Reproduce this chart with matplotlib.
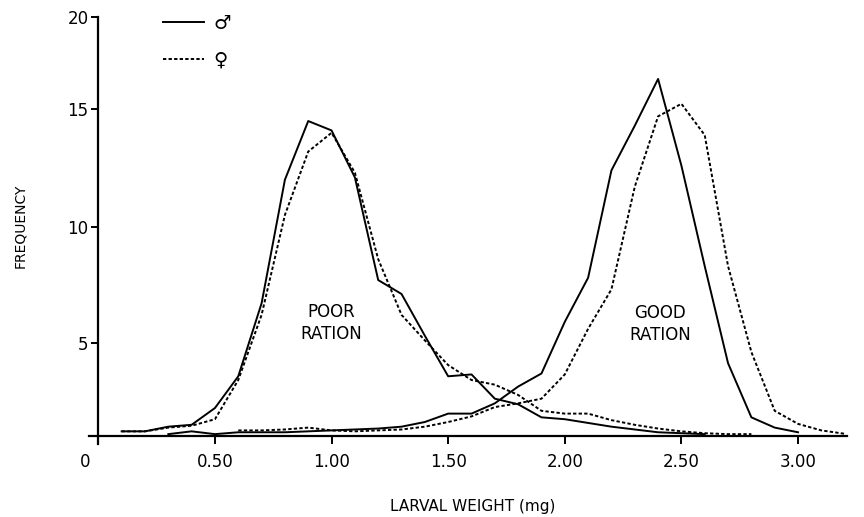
import numpy as np
import matplotlib
matplotlib.use("Agg")
import matplotlib.pyplot as plt
import matplotlib.transforms as mtransforms

# ---- data ----
poor_male_x = np.round(np.arange(0.1, 2.65, 0.1), 2)
poor_male_y = [0.25, 0.25, 0.5, 0.6, 1.5, 3.2, 6.7, 12.0, 14.5, 14.1, 12.1, 7.7, 7.1,
               5.3, 3.2, 3.3, 2.0, 1.7, 1.0, 0.9, 0.7, 0.5, 0.35, 0.2, 0.15, 0.1]
poor_female_x = np.round(np.arange(0.1, 2.85, 0.1), 2)
poor_female_y = [0.25, 0.25, 0.45, 0.55, 0.9, 3.0, 6.2, 10.5, 13.2, 14.0, 12.3, 8.6, 6.2,
                 5.1, 3.8, 3.0, 2.75, 2.2, 1.35, 1.2, 1.2, 0.85, 0.6, 0.4, 0.25, 0.15, 0.1, 0.1]
good_male_x = np.round(np.arange(0.3, 3.05, 0.1), 2)
good_male_y = [0.1, 0.25, 0.1, 0.2, 0.2, 0.2, 0.25, 0.3, 0.35, 0.4, 0.5, 0.75, 1.2, 1.2,
               1.75, 2.65, 3.35, 5.9, 7.8, 12.4, 14.3, 16.65, 12.6, 8.3, 3.9, 1.0, 0.45, 0.2]
good_female_x = np.round(np.arange(0.6, 3.25, 0.1), 2)
good_female_y = [0.3, 0.3, 0.35, 0.45, 0.3, 0.25, 0.3, 0.35, 0.5, 0.75, 1.05, 1.55, 1.75,
                 2.0, 3.3, 5.6, 7.3, 11.7, 14.7, 15.3, 13.9, 8.3, 4.5, 1.35, 0.65, 0.3, 0.12]

x_ticks = [0.5, 1.0, 1.5, 2.0, 2.5, 3.0]
x_tick_labels = ["0.50", "1.00", "1.50", "2.00", "2.50", "3.00"]
y_ticks = [5, 10, 15, 20]
y_tick_labels = ["5", "10", "15", "20"]

# ---- the printed frequency axis is not evenly spaced; mimic it ----
VB = np.array([0.0, 5.0, 10.0, 15.0, 20.0])
PB = np.array([0.0, 93.3, 209.3, 326.7, 418.7])
s_lo = (PB[1] - PB[0]) / (VB[1] - VB[0])
s_hi = (PB[-1] - PB[-2]) / (VB[-1] - VB[-2])


def fwd(v):
    v = np.asarray(v, dtype=float)
    out = np.interp(v, VB, PB)
    out = np.where(v < VB[0], PB[0] + (v - VB[0]) * s_lo, out)
    out = np.where(v > VB[-1], PB[-1] + (v - VB[-1]) * s_hi, out)
    return out


def inv(p):
    p = np.asarray(p, dtype=float)
    out = np.interp(p, PB, VB)
    out = np.where(p < PB[0], VB[0] + (p - PB[0]) / s_lo, out)
    out = np.where(p > PB[-1], VB[-1] + (p - PB[-1]) / s_hi, out)
    return out


plt.rcParams["lines.scale_dashes"] = False
W, H = 864, 517
fig = plt.figure(figsize=(W / 100, H / 100), dpi=100)
ax = fig.add_axes([89 / W, 72.6 / H, 758 / W, 427.1 / H])
ax.set_yscale("function", functions=(fwd, inv))
ax.set_xlim(-0.04, 3.21)
ax.set_ylim(-0.45, 20)

lw = 1.4
dash = (2.4, 1.6)
l_m, = ax.plot(poor_male_x, poor_male_y, color="black", lw=lw, label="♂")
l_f, = ax.plot(poor_female_x, poor_female_y, color="black", lw=lw, ls=(0, dash), label="♀")
ax.plot(good_male_x, good_male_y, color="black", lw=lw)
ax.plot(good_female_x, good_female_y, color="black", lw=lw, ls=(0, dash))

for s in ["top", "right"]:
    ax.spines[s].set_visible(False)
ax.spines["left"].set_position(("data", 0))
ax.spines["bottom"].set_position(("data", 0))
ax.spines["left"].set_linewidth(1.6)
ax.spines["bottom"].set_linewidth(1.6)

ax.set_xticks(x_ticks)
ax.set_xticklabels(x_tick_labels)
ax.set_yticks(y_ticks)
ax.set_yticklabels(y_tick_labels)
ax.minorticks_off()
ax.tick_params(axis="x", direction="out", length=6, width=1.4, pad=6, labelsize=12)
ax.tick_params(axis="y", direction="out", length=5, width=1.4, pad=2, labelsize=12)

# the "0" origin label, set a little left of the axis like the original
zero_tr = (mtransforms.blended_transform_factory(ax.transData, ax.transData)
           + mtransforms.ScaledTranslation(0, -12 / 72, fig.dpi_scale_trans))
ax.text(-0.055, 0, "0", ha="center", va="top", fontsize=12, transform=zero_tr)

ax.text(1.0, 5.85, "POOR\nRATION", ha="center", va="center", fontsize=12,
        linespacing=1.25)
ax.text(2.41, 5.8, "GOOD\nRATION", ha="center", va="center", fontsize=12,
        linespacing=1.25)

fig.text(20 / W, 1 - 226 / H, "FREQUENCY", rotation=90, ha="center", va="center",
         fontsize=10)
fig.text(473 / W, 1 - 507 / H, "LARVAL WEIGHT (mg)", ha="center", va="center",
         fontsize=11)

ax.legend(handles=[l_m, l_f], loc="upper left", bbox_to_anchor=(163 / W, 1 - 14 / H),
          bbox_transform=fig.transFigure, frameon=False, fontsize=14,
          handlelength=2.1, handletextpad=0.5, labelspacing=0.9, borderpad=0,
          borderaxespad=0)

fig.savefig("out.png", dpi=100)
